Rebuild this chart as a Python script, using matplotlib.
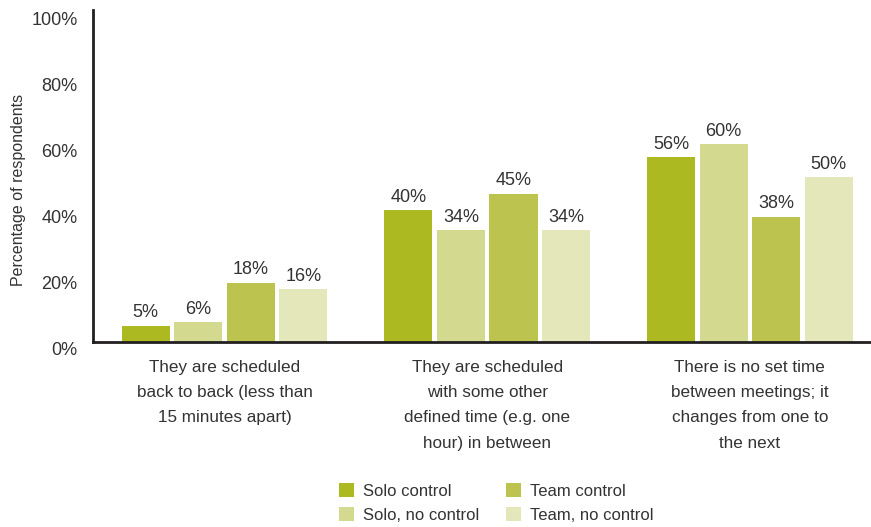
import matplotlib.pyplot as plt
import matplotlib.transforms as mtransforms
import numpy as np

plt.rcParams['font.family'] = ['Liberation Sans', 'DejaVu Sans']

# Данные опроса: время между встречами
categories = [
    'They are scheduled\nback to back (less than\n15 minutes apart)',
    'They are scheduled\nwith some other\ndefined time (e.g. one\nhour) in between',
    'There is no set time\nbetween meetings; it\nchanges from one to\nthe next',
]
series = ['Solo control', 'Solo, no control', 'Team control', 'Team, no control']
solo_control = [5, 40, 56]
solo_no_control = [6, 34, 60]
team_control = [18, 45, 38]
team_no_control = [16, 34, 50]
colors = ['#adb920', '#d3d98e', '#bcc44f', '#e3e7b9']

values = [solo_control, solo_no_control, team_control, team_no_control]
text_color = '#333333'

fig = plt.figure(figsize=(8.71, 5.27), dpi=100)
ax = fig.add_axes([0.1068, 0.351, 0.8932, 0.626])

x = np.arange(len(categories))
step = 0.2
width = 0.183
for i, (name, vals, c) in enumerate(zip(series, values, colors)):
    pos = x + (i - 1.5) * step
    bars = ax.bar(pos, vals, width=width, color=c, label=name, zorder=2)
    for b, v in zip(bars, vals):
        ax.text(b.get_x() + b.get_width() / 2, v + 1.3, f'{v}%',
                ha='center', va='bottom', fontsize=13, color=text_color)

ax.set_xlim(-0.5006, 2.461)
ax.set_ylim(0, 100)
ax.set_yticks(range(0, 101, 20))
ax.set_yticklabels([f'{t}%' for t in range(0, 101, 20)])
ax.tick_params(axis='y', length=0, pad=11, labelsize=13, colors=text_color)
ax.set_xticks(x)
ax.set_xticklabels(categories, linespacing=1.85)
ax.tick_params(axis='x', length=0, pad=13, labelsize=12.3, colors=text_color)
ax.set_ylabel('Percentage of respondents', fontsize=11.5, color=text_color)
ax.yaxis.set_label_coords(-0.086, 0.46)

# подписи оси Y чуть ниже делений
shift = mtransforms.ScaledTranslation(0, -6 / 100, fig.dpi_scale_trans)
for lbl in ax.get_yticklabels():
    lbl.set_transform(lbl.get_transform() + shift)

for s in ['top', 'right']:
    ax.spines[s].set_visible(False)
ax.spines['left'].set_color('#231f20')
ax.spines['left'].set_linewidth(2)
ax.spines['bottom'].set_color('#231f20')
ax.spines['bottom'].set_linewidth(2)
ax.spines['left'].set_bounds(0, 100.5)

fig.legend(loc='center', bbox_to_anchor=(0.570, 0.046), ncol=2, frameon=False,
           fontsize=12, handlelength=0.9, handleheight=0.9, handletextpad=0.55,
           columnspacing=1.6, labelspacing=0.5, labelcolor=text_color)

fig.savefig('out.png', dpi=100)
